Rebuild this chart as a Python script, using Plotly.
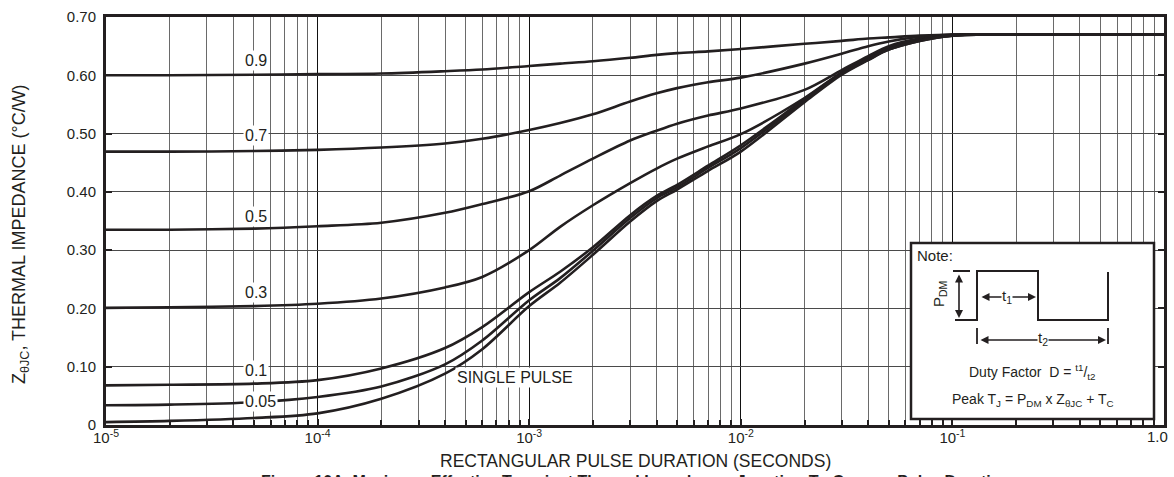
import plotly.graph_objects as go

# pulse duration (s) and Z_thetaJC (degC/W)
pulse_s = [1e-5, 2e-5, 5e-5, 1e-4, 2e-4, 4e-4, 6e-4, 1e-3, 1.4e-3, 2e-3, 3e-3, 4e-3,
           5e-3, 7e-3, 1e-2, 2e-2, 3e-2, 4e-2, 5e-2, 7e-2, 1e-1, 2e-1, 5e-1, 1.0]

z_d09 = [0.600, 0.600, 0.601, 0.602, 0.603, 0.607, 0.610, 0.616, 0.620, 0.624, 0.630, 0.635,
         0.638, 0.641, 0.645, 0.654, 0.659, 0.663, 0.665, 0.668, 0.670, 0.670, 0.670, 0.670]
z_d07 = [0.469, 0.469, 0.470, 0.472, 0.476, 0.483, 0.491, 0.506, 0.518, 0.533, 0.555, 0.569,
         0.578, 0.588, 0.596, 0.620, 0.637, 0.650, 0.658, 0.666, 0.670, 0.670, 0.670, 0.670]
z_d05 = [0.335, 0.335, 0.337, 0.341, 0.347, 0.364, 0.379, 0.401, 0.428, 0.457, 0.488, 0.505,
         0.517, 0.531, 0.543, 0.575, 0.609, 0.633, 0.650, 0.663, 0.669, 0.670, 0.670, 0.670]
z_d03 = [0.201, 0.202, 0.204, 0.208, 0.217, 0.236, 0.254, 0.300, 0.340, 0.377, 0.415, 0.440,
         0.457, 0.478, 0.499, 0.561, 0.605, 0.630, 0.647, 0.662, 0.669, 0.670, 0.670, 0.670]
z_d01 = [0.068, 0.069, 0.071, 0.077, 0.097, 0.132, 0.168, 0.228, 0.263, 0.305, 0.360, 0.393,
         0.412, 0.445, 0.480, 0.559, 0.604, 0.628, 0.645, 0.660, 0.668, 0.670, 0.670, 0.670]
z_d005 = [0.034, 0.035, 0.039, 0.048, 0.066, 0.104, 0.145, 0.214, 0.252, 0.299, 0.355, 0.389,
          0.408, 0.441, 0.475, 0.557, 0.603, 0.627, 0.644, 0.659, 0.668, 0.670, 0.670, 0.670]
z_single = [0.005, 0.007, 0.012, 0.020, 0.045, 0.088, 0.130, 0.204, 0.244, 0.292, 0.349, 0.384,
            0.404, 0.436, 0.469, 0.554, 0.601, 0.626, 0.644, 0.659, 0.668, 0.670, 0.670, 0.670]

series = [z_d09, z_d07, z_d05, z_d03, z_d01, z_d005, z_single]

# curve labels: text, log10(x) position, y position
curve_labels = ["0.9", "0.7", "0.5", "0.3", "0.1", "0.05", "SINGLE PULSE"]
label_logx = [-4.29, -4.29, -4.29, -4.29, -4.29, -4.27, -3.065]
label_y = [0.626, 0.497, 0.358, 0.228, 0.093, 0.040, 0.081]

x_tickvals = [1e-5, 1e-4, 1e-3, 1e-2, 1e-1, 1.0]
x_ticktext = ["10<sup>-5</sup>", "10<sup>-4</sup>", "10<sup>-3</sup>",
              "10<sup>-2</sup>", "10<sup>-1</sup>", ""]
last_tick_text = "1.0"   # drawn as a note so it is not clipped at the right edge
y_tickvals = [0, 0.1, 0.2, 0.3, 0.4, 0.5, 0.6, 0.7]
y_ticktext = ["0", "0.10", "0.20", "0.30", "0.40", "0.50", "0.60", "0.70"]

FONT = "Liberation Sans, Arial, Helvetica, sans-serif"
INK = "#231f20"
W, H = 1174, 477
L, R, T, B = 106, 10, 17, 52


def px(x):
    return (x - L) / (W - L - R)


def py(y):
    return (H - B - y) / (H - T - B)


def note(x, y, text, size=14, **kw):
    fig.add_annotation(x=px(x), y=py(y), xref="paper", yref="paper", text=text,
                       showarrow=False, xanchor=kw.pop("xanchor", "center"),
                       yanchor="middle", font=dict(family=FONT, size=size, color=INK), **kw)


fig = go.Figure()
for z in series:
    fig.add_trace(go.Scatter(x=pulse_s, y=z, mode="lines",
                             line=dict(color=INK, width=2.6, shape="spline", smoothing=0.9),
                             showlegend=False, hoverinfo="skip"))

for txt, lx, ly in zip(curve_labels, label_logx, label_y):
    fig.add_annotation(x=lx, y=ly, xref="x", yref="y", text=txt, showarrow=False,
                       xanchor="center", yanchor="middle",
                       font=dict(family=FONT, size=16, color=INK),
                       bgcolor="white", borderpad=1)

minor_vals = [m * 10 ** e for e in range(-5, 0) for m in range(2, 10)]

fig.update_xaxes(type="log", range=[-5, 0], tickvals=x_tickvals, ticktext=x_ticktext,
                 showgrid=True, gridcolor="#111111", gridwidth=1.4,
                 ticks="inside", ticklen=6, tickwidth=1.5, tickcolor=INK,
                 showline=True, linecolor=INK, linewidth=3, mirror=True,
                 ticklabelstandoff=-3, automargin=False,
                 tickfont=dict(family=FONT, size=15, color=INK),
                 minor=dict(tickvals=minor_vals, showgrid=True, gridcolor="#6a6a6a",
                            gridwidth=1.2, ticks="inside", ticklen=5, tickcolor=INK))
fig.update_yaxes(range=[0, 0.7], tickvals=y_tickvals, ticktext=y_ticktext,
                 showgrid=True, gridcolor="#4a4a4a", gridwidth=1.3, zeroline=False,
                 ticks="inside", ticklen=6, tickwidth=1.5, tickcolor=INK,
                 showline=True, linecolor=INK, linewidth=3, mirror="allticks",
                 ticklabelstandoff=4, automargin=False,
                 tickfont=dict(family=FONT, size=15, color=INK))

note(1157, 437, last_tick_text, size=15)

# axis titles and caption
note(20, 234, "Z<sub>θJC</sub>, THERMAL IMPEDANCE (°C/W)", size=18, textangle=-90)
note(635, 461, "RECTANGULAR PULSE DURATION (SECONDS)", size=17.5)
note(635, 481, "<b>Figure 10A. Maximum Effective Transient Thermal Impedance, "
               "Junction-To-Case vs Pulse Duration</b>", size=16)

# note box
fig.add_shape(type="rect", xref="paper", yref="paper", x0=px(911), x1=px(1154),
              y0=py(419), y1=py(243), fillcolor="white", line=dict(color=INK, width=2.5),
              layer="above")
wave = [(955, 320), (977, 320), (977, 271), (1038, 271), (1038, 320), (1108, 320), (1108, 272)]
path = "M " + " L ".join(f"{px(a):.5f},{py(b):.5f}" for a, b in wave)
fig.add_shape(type="path", xref="paper", yref="paper", path=path,
              line=dict(color=INK, width=2), layer="above")
fig.add_shape(type="line", xref="paper", yref="paper", x0=px(953), x1=px(970),
              y0=py(271), y1=py(271), line=dict(color=INK, width=2), layer="above")
for tx in (977, 1108):
    fig.add_shape(type="line", xref="paper", yref="paper", x0=px(tx), x1=px(tx),
                  y0=py(328), y1=py(344), line=dict(color=INK, width=1.8), layer="above")

arrow = dict(xref="paper", yref="paper", text="", showarrow=True, arrowhead=2,
             arrowside="end+start", arrowsize=1, arrowwidth=1.6, arrowcolor=INK,
             axref="pixel", ayref="pixel", standoff=0, startstandoff=0)
fig.add_annotation(x=px(959), y=py(318), ax=0, ay=-45, **arrow)
fig.add_annotation(x=px(1036), y=py(297), ax=-56, ay=0, **arrow)
fig.add_annotation(x=px(1106), y=py(340), ax=-127, ay=0, **arrow)

note(915, 256, "Note:", size=15, xanchor="left")
note(939, 294, "P<sub>DM</sub>", size=15, textangle=-90)
note(1007, 296, "t<sub>1</sub>", size=15, bgcolor="white", borderpad=0)
note(1043, 338, "t<sub>2</sub>", size=15, bgcolor="white", borderpad=0)
note(1032, 372, "Duty Factor  D = <sup>t1</sup>/<sub>t2</sub>")
note(1033, 400, "Peak T<sub>J</sub> = P<sub>DM</sub> x Z<sub>θJC</sub> + T<sub>C</sub>")

fig.update_layout(width=W, height=H, margin=dict(l=L, r=R, t=T, b=B),
                  paper_bgcolor="white", plot_bgcolor="white",
                  font=dict(family=FONT, color=INK))

# page body margin would push the figure 8px off, drop it
fig.write_html("out.html", config={"displayModeBar": False},
               post_script="document.body.style.margin='0';")
